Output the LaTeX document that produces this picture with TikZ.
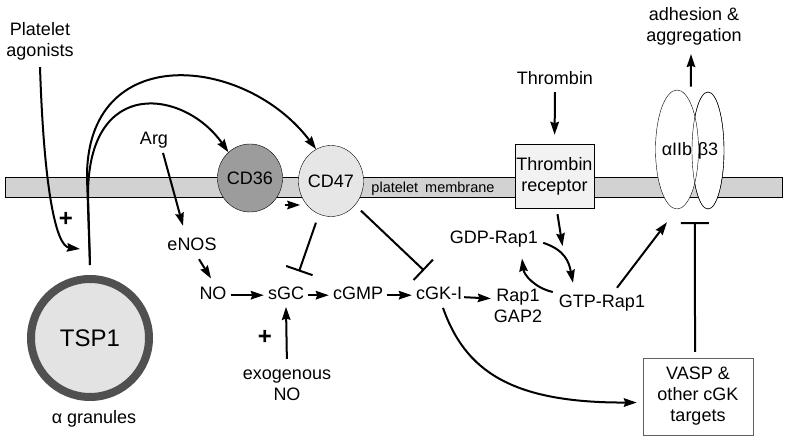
\documentclass[tikz,border=0pt]{standalone}
\usepackage{fontspec}
\setmainfont{Liberation Sans}
\usetikzlibrary{shapes.geometric,arrows.meta,calc}
\definecolor{membr}{HTML}{D2D2D2}
\definecolor{cdthree}{HTML}{9C9C9C}
\definecolor{cdfour}{HTML}{E6E6E6}
\definecolor{recfill}{HTML}{F2F2F2}
\definecolor{tspfill}{HTML}{E3E3E3}
\definecolor{tspring}{HTML}{505050}
\definecolor{vaspdraw}{HTML}{606060}
\begin{document}
\begin{tikzpicture}[x=1pt,y=-1pt,
  every node/.style={font=\fontsize{18}{21}\selectfont, inner sep=3pt, align=center},
  lbl/.style={text height=13pt, text depth=4pt},
  ln/.style={line width=2pt},
  arr/.style={line width=2pt, -{Stealth[length=13pt,width=8.5pt,inset=1.5pt]}},
  inh/.style={line width=2pt, -{Bar[width=28pt]}},
  plussign/.style={font=\fontsize{24}{24}\selectfont\bfseries, inner sep=0pt}]
\useasboundingbox (0,0) rectangle (788,443);

% membrane
\node[draw, fill=membr, minimum width=777pt, minimum height=20pt, inner sep=0pt, anchor=north west] (mem) at (5,177) {};
\node[font=\fontsize{14.5}{16}\selectfont, text height=10.5pt, text depth=3pt] (memtxt) at (433,189) {platelet\hspace{7pt}membrane};

% receptors
\node[ellipse, draw, fill=cdthree, minimum width=52pt, minimum height=68pt, inner sep=0pt] (cd36) at (250,178) {CD36};
\node[ellipse, draw, fill=cdfour, minimum width=56pt, minimum height=71pt, inner sep=0pt] (cd47) at (331,181) {CD47};
\node[draw, fill=recfill, minimum width=79pt, minimum height=64pt, inner sep=1pt] (rec) at (554.5,176) {Thrombin\\receptor};
\node[ellipse, draw, fill=white, minimum width=32pt, minimum height=117pt, inner sep=0pt] (b3) at (708,150.5) {};
\node[ellipse, draw, fill=white, minimum width=35pt, minimum height=119pt, inner sep=0pt] (a2b) at (677,149.5) {αIIb};
\node[ellipse, draw, minimum width=32pt, minimum height=117pt, inner sep=0pt] (b3o) at (708,150.5) {β3};

% TSP1 granule
\node[circle, draw=tspring, line width=8pt, fill=tspfill, minimum size=118pt, inner sep=0pt,
      font=\fontsize{24}{24}\selectfont] (tsp) at (90,338) {TSP1};
\node[lbl] (gran) at (94,419.5) {α granules};

% text labels
\node (ag) at (40,41) {Platelet\\agonists};
\node (adh) at (694,26) {adhesion \&\\aggregation};
\node[lbl] (thr) at (555,80.5) {Thrombin};
\node[lbl] (arg) at (154,140.2) {Arg};
\node[lbl] (enos) at (192,246.5) {eNOS};
\node[lbl] (no) at (213,295.2) {NO};
\node[lbl] (sgc) at (286,295.2) {sGC};
\node[lbl] (cgmp) at (358,295.2) {cGMP};
\node[lbl] (cgk) at (439,295.2) {cGK-I};
\node (rap) at (518,305.5) {Rap1\\GAP2};
\node[lbl] (gdp) at (494,238.8) {GDP-Rap1};
\node[lbl] (gtp) at (602,303.5) {GTP-Rap1};
\node (exo) at (287,385.5) {exogenous\\NO};
\node[draw=vaspdraw, minimum width=110pt, minimum height=77pt, inner sep=1pt] (vasp) at (698,396.5) {VASP \&\\other cGK\\targets};
\node[plussign] (plusa) at (66,219) {+};
\node[plussign] (plusb) at (265,337) {+};

% helper coordinates
\coordinate (tspTop) at ([yshift=10pt]tsp.north);
\coordinate (agTip) at (80,249);

% platelet agonists
\draw[arr] ([yshift=-4pt]ag.south) .. controls (44,190) and (56,246) .. (agTip);

% TSP1 to CD36 / CD47
\draw[arr] (tspTop) -- (87,178) .. controls (86,40) and (245,55) .. (cd47.115);
\draw[arr] (tspTop) -- (88,195) .. controls (88,75) and (185,90) .. (cd36.130);

% NO pathway
\draw[arr] ($(arg.south)+(9,1)$) -- ($(enos.north)+(-9,-9)$);
\draw[arr] ($(enos.south)+(7,1)$) -- ($(no.north)+(-2,-5)$);
\draw[arr, shorten <=1pt, shorten >=1pt] (no) -- (sgc);
\draw[arr, shorten <=1pt, shorten >=1pt] (sgc) -- (cgmp);
\draw[arr, shorten <=1pt, shorten >=1pt] (cgmp) -- (cgk);
\draw[arr, shorten <=8pt] (exo.north) -- (sgc.south);

% CD36 -> CD47
\draw[arr] ($(cd36.east)+(2,27)$) -- ($(cd47.west)+(2,24)$);

% inhibitions from CD47
\draw[inh, shorten <=9pt] (cd47.250) -- ($(sgc.north)+(13,-12)$);
\draw[inh, shorten <=8pt] (cd47.-45) -- ($(cgk.north)+(-15,-13)$);

% cGK-I targets
\draw[arr] ($(cgk.east)+(-1,2)$) -- ($(rap.west)+(0,-7)$);
\draw[arr] ($(cgk.south)+(4,1)$) .. controls (465,370) and (510,403) .. ($(vasp.west)+(-6,6)$);

% Thrombin
\draw[arr, shorten >=9pt] (thr.south) -- (rec.north);
\draw[arr] ($(rec.south)+(3,6)$) -- ($(rec.south)+(8,38)$);

% Rap1 cycle
\draw[arr] ($(gdp.east)+(2,4)$) .. controls (565,250) and (569,262) .. ($(gtp.north)+(-29,-9)$);
\draw[arr] ($(gtp.west)+(-3,-11.5)$) .. controls (535,288) and (524,275) .. ($(gdp.south)+(28,8)$);
\draw[arr] ($(gtp.north)+(15,-4)$) -- ($(a2b.south)+(-10,13)$);

% VASP inhibits integrin
\draw[inh] ($(vasp.north)+(-3,-6)$) -- ($(a2b.south)!0.58!(b3.south)+(0,13)$);

% integrin -> adhesion
\draw[arr] ($(a2b.north)!0.45!(b3.north)+(0,-4)$) -- ($(adh.south)+(-3,6)$);
\end{tikzpicture}
\end{document}
